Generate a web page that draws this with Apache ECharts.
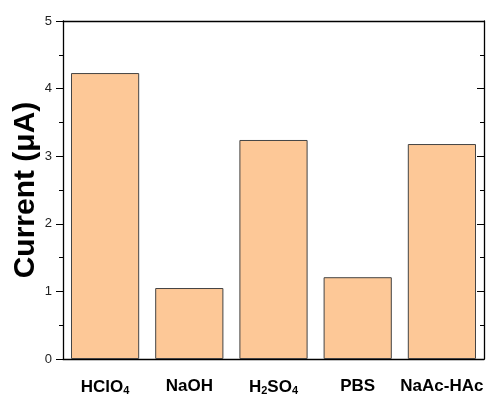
<!DOCTYPE html>
<html><head><meta charset="utf-8">
<script src="https://cdn.jsdelivr.net/npm/echarts@6/dist/echarts.min.js"></script>
<style>html,body{margin:0;padding:0;background:#fff}#c{width:487px;height:396px}</style>
</head><body><div id="c"></div>
<script>
const categories = ['HClO{s|4}', 'NaOH', 'H{s|2}SO{s|4}', 'PBS', 'NaAc-HAc'];
const currents = [4.23, 1.05, 3.24, 1.21, 3.18];
const yTicks = [0, 1, 2, 3, 4, 5];

const font = 'Liberation Sans, Arial, sans-serif';
const chart = echarts.init(document.getElementById('c'));
const lineStyle = {color: '#000', width: 1.3};
const grid = {left: 63, right: 3, top: 21, bottom: 37, containLabel: false, outerBoundsMode: 'none'};
chart.setOption({
  animation: false,
  grid: grid,
  xAxis: [
    {type: 'category', data: categories, position: 'bottom',
     axisLine: {lineStyle: lineStyle},
     axisTick: {alignWithLabel: true, length: 6, lineStyle: {color: '#000'}},
     axisLabel: {interval: 0, margin: 19, color: '#000', fontFamily: font, fontWeight: 'bold', fontSize: 17,
       formatter: v => v,
       rich: {s: {fontSize: 11, fontWeight: 'bold', fontFamily: font, color: '#000', padding: [7, 0, 0, 0]}}}},
    {type: 'category', data: categories, position: 'bottom',
     axisLine: {show: false},
     axisTick: {length: 3, lineStyle: {color: '#000'}},
     axisLabel: {show: false}},
    {type: 'category', data: categories, position: 'top',
     axisLine: {lineStyle: lineStyle},
     axisTick: {alignWithLabel: true, inside: true, length: 6, lineStyle: {color: '#000'}},
     axisLabel: {show: false}},
    {type: 'category', data: categories, position: 'top',
     axisLine: {show: false},
     axisTick: {inside: true, length: 3, lineStyle: {color: '#000'}},
     axisLabel: {show: false}}
  ],
  yAxis: [
    {type: 'value', min: yTicks[0], max: yTicks[yTicks.length - 1], interval: 1, position: 'left',
     name: 'Current (μA)', nameLocation: 'middle', nameGap: 22, nameMoveOverlap: false,
     nameTextStyle: {fontFamily: font, fontWeight: 'bold', fontSize: 30, color: '#000'},
     axisLine: {show: true, lineStyle: lineStyle},
     axisTick: {show: true, length: 7, lineStyle: {color: '#000'}},
     minorTick: {show: true, splitNumber: 2, length: 4, lineStyle: {color: '#000'}},
     splitLine: {show: false},
     axisLabel: {margin: 11, color: '#222', fontFamily: font, fontSize: 13}},
    {type: 'value', min: yTicks[0], max: yTicks[yTicks.length - 1], interval: 1, position: 'right',
     axisLine: {show: true, lineStyle: lineStyle},
     axisTick: {show: true, inside: true, length: 7, lineStyle: {color: '#000'}},
     minorTick: {show: true, splitNumber: 2, length: 4, lineStyle: {color: '#000'}},
     splitLine: {show: false},
     axisLabel: {show: false}}
  ],
  series: [{
    type: 'bar', data: currents, xAxisIndex: 0, yAxisIndex: 0,
    barCategoryGap: '19%',
    itemStyle: {color: '#FDC897', borderColor: '#444', borderWidth: 1}
  }]
});
</script></body></html>
